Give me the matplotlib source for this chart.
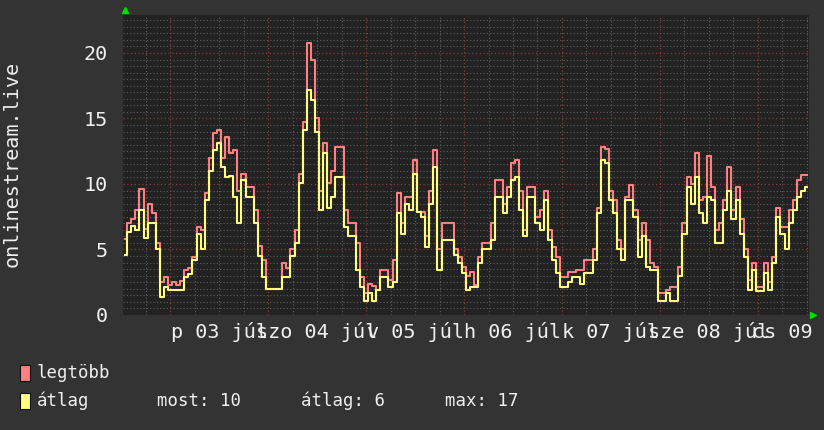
import numpy as np
import matplotlib
matplotlib.use("Agg")
import matplotlib.pyplot as plt
from matplotlib.patches import Rectangle
from matplotlib.ticker import MultipleLocator, NullFormatter

# hours since 2 Jul 00:00, one sample per hour
hours = np.arange(13, 181)

legtobb = [
    5.8, 7.0, 7.3, 8.0, 9.6, 6.6, 8.5, 7.8, 5.5, 2.5, 2.9,
    2.3, 2.5, 2.3, 2.6, 3.4, 3.6, 4.4, 6.7, 6.5, 9.3, 12.0, 13.9, 14.1, 12.0, 13.6, 12.4, 12.6, 9.5, 10.8, 9.8, 9.8, 8.0, 5.3, 4.2,
    2.0, 2.0, 2.0, 2.0, 4.0, 3.6, 5.0, 6.5, 10.8, 14.7, 20.8, 19.5, 15.0, 9.5, 13.1, 10.1, 11.0, 12.8, 12.8, 8.0, 7.0, 7.0, 5.5, 2.9,
    1.7, 2.4, 2.2, 1.9, 3.4, 3.4, 2.7, 4.2, 9.3, 7.0, 9.0, 9.0, 11.8, 7.9, 7.9, 6.0, 9.5, 12.6, 5.0, 7.0, 7.0, 7.0, 5.0, 4.4,
    3.7, 3.0, 3.3, 2.3, 4.4, 5.5, 5.5, 7.0, 10.3, 10.3, 8.5, 9.8, 11.6, 11.8, 9.5, 6.5, 9.8, 9.8, 7.5, 8.0, 9.5, 6.5, 5.2, 4.4,
    2.9, 2.9, 3.3, 3.3, 3.4, 3.4, 4.2, 4.2, 5.0, 8.2, 12.8, 12.7, 9.5, 8.8, 5.7, 5.0, 9.0, 9.9, 8.0, 5.7, 7.0, 5.7, 4.0, 3.7,
    1.7, 1.7, 1.9, 2.1, 2.1, 3.7, 7.0, 10.5, 10.0, 12.4, 8.8, 9.0, 12.1, 9.8, 6.5, 7.0, 8.8, 11.3, 8.0, 9.8, 7.3, 5.0, 2.7, 4.0,
    2.1, 2.1, 4.0, 2.5, 4.4, 8.2, 6.7, 6.7, 8.0, 8.8, 10.3, 10.7, 10.7,
]
atlag = [
    4.6, 6.3, 6.8, 6.5, 8.0, 5.9, 7.0, 7.0, 5.0, 1.4, 2.1,
    1.9, 1.9, 1.9, 1.9, 2.9, 3.1, 4.2, 6.2, 5.0, 8.8, 11.0, 12.6, 13.1, 11.3, 10.5, 10.6, 9.0, 7.0, 10.3, 9.0, 9.0, 7.0, 4.5, 2.9,
    2.0, 2.0, 2.0, 2.0, 2.9, 2.9, 4.5, 5.5, 10.1, 14.1, 17.2, 16.4, 14.0, 8.0, 12.4, 8.2, 9.0, 10.5, 10.5, 6.7, 6.0, 6.0, 3.4, 2.1,
    1.1, 1.7, 1.1, 1.9, 2.9, 2.9, 2.1, 2.5, 7.8, 6.2, 8.5, 8.0, 10.8, 7.9, 7.5, 5.2, 8.5, 11.3, 3.4, 5.7, 5.7, 5.7, 4.6, 4.0,
    3.2, 1.9, 2.1, 2.1, 4.0, 5.0, 5.0, 5.7, 9.0, 9.0, 7.8, 9.0, 10.3, 10.5, 8.0, 6.0, 9.0, 9.0, 7.0, 6.5, 8.8, 5.7, 4.2, 3.2,
    2.1, 2.1, 2.5, 2.9, 2.9, 2.4, 3.2, 3.2, 4.2, 7.8, 11.8, 11.6, 8.8, 7.8, 5.0, 4.2, 8.8, 8.8, 7.5, 4.4, 6.0, 3.7, 3.4, 3.4,
    1.1, 1.1, 1.7, 1.1, 1.1, 3.0, 6.2, 9.8, 8.5, 10.5, 7.8, 7.0, 9.0, 8.8, 5.5, 5.5, 8.0, 9.5, 7.3, 8.8, 6.2, 4.4, 1.9, 3.4,
    1.8, 1.8, 3.2, 1.9, 4.0, 7.5, 6.2, 5.0, 7.0, 8.0, 9.0, 9.5, 9.8,
]

day_noons = [36, 60, 84, 108, 132, 156, 180]
day_labels = ["p 03 júl", "szo 04 júl", "v 05 júl", "h 06 júl",
              "k 07 júl", "sze 08 júl", "cs 09 júl"]
y_ticks = [0, 5, 10, 15, 20]

legend_rows = [("legtöbb", "#ff8080"), ("átlag", "#ffff80")]
stats = [("most", 10), ("átlag", 6), ("max", 17)]

W, H = 824, 430
MONO = "DejaVu Sans Mono"
TXT = "#f0f0f0"


def fx(px):
    return px / W


def fy(py):
    # pixel measured from the top
    return 1 - py / H


fig = plt.figure(figsize=(W / 100, H / 100), dpi=100, facecolor="#333333")
ax = fig.add_axes([fx(123.5), fy(315), fx(809) - fx(123.5), fy(15) - fy(315)])
ax.set_facecolor("#222222")

ax.step(hours, legtobb, where="mid", color="#ff8080", lw=1.5, zorder=3)
ax.step(hours, atlag, where="mid", color="#ffff80", lw=1.5, zorder=4)

ax.set_xlim(12.6, 180.5)
ax.set_ylim(0, 22.9)

ax.xaxis.set_major_locator(MultipleLocator(24))
ax.xaxis.set_minor_locator(MultipleLocator(6))
ax.xaxis.set_major_formatter(NullFormatter())
ax.yaxis.set_major_locator(MultipleLocator(5))
ax.yaxis.set_minor_locator(MultipleLocator(0.5))

ax.grid(which="minor", color="#5e5e5e", linestyle=(0, (1, 2)), lw=0.8, zorder=1)
ax.grid(which="major", color="#8a3a3a", linestyle=(0, (1, 2)), lw=0.9, zorder=2)
ax.set_axisbelow(True)

ax.tick_params(which="both", length=0)
ax.tick_params(axis="y", pad=11, labelsize=14.5, labelcolor=TXT)
ax.set_yticks(y_ticks)
ax.set_yticklabels([str(t) for t in y_ticks], family=MONO)
for sp in ax.spines.values():
    sp.set_visible(False)

for pos, lab in zip(day_noons, day_labels):
    ax.text(pos, -0.055, lab, transform=ax.get_xaxis_transform(), ha="center",
            va="center", family=MONO, fontsize=14.5, color=TXT, clip_on=False)

# rrdtool style arrows
fig.lines.append(plt.Line2D([fx(125)], [fy(10)], marker="^", ms=5, color="#00dd00",
                            transform=fig.transFigure))
fig.lines.append(plt.Line2D([fx(813)], [fy(315)], marker=">", ms=5, color="#00dd00",
                            transform=fig.transFigure))

fig.text(fx(12), fy(164), "onlinestream.live", rotation=90, ha="center", va="center",
         family=MONO, fontsize=14.5, color=TXT)

# legend
row_y = [373, 401]
for (name, col), yy in zip(legend_rows, row_y):
    fig.patches.append(Rectangle((fx(20), fy(yy + 8)), 10 / W, 16 / H, transform=fig.transFigure,
                                 facecolor=col, edgecolor="#111111", lw=0.8))
    fig.text(fx(37), fy(yy), name, ha="left", va="center", family=MONO, fontsize=12.5, color=TXT)

for (name, val), xx in zip(stats, [157, 301, 445]):
    fig.text(fx(xx), fy(row_y[1]), f"{name}: {val}", ha="left", va="center",
             family=MONO, fontsize=12.5, color=TXT)

fig.savefig("out.png", dpi=100, facecolor=fig.get_facecolor())
